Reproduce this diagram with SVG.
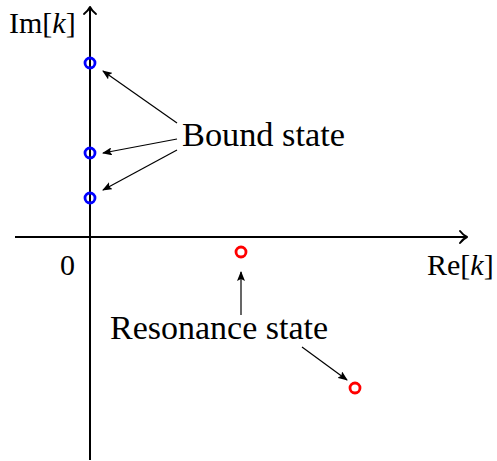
<svg xmlns="http://www.w3.org/2000/svg" width="497" height="461" viewBox="0 0 497 461">
<style>
.t{font-family:"Liberation Serif","Times New Roman",serif;font-size:30px;fill:#000}
.big{font-size:34px}
.ax{stroke:#000;stroke-width:2;fill:none}
.ah{stroke:#000;stroke-width:2;fill:none;stroke-linecap:round;stroke-linejoin:round}
.ar{stroke:#000;stroke-width:1.2;fill:none;marker-end:url(#tip)}
.b{fill:none;stroke:#0000ff;stroke-width:2.8}
.r{fill:none;stroke:#ff0000;stroke-width:2.8}
</style>
<defs>
<marker id="tip" viewBox="0 0 10 8" refX="9" refY="4" markerWidth="10" markerHeight="8" markerUnits="userSpaceOnUse" orient="auto">
<path d="M0,0 L10,4 L0,8 L2,4 Z" fill="#000"/>
</marker>
</defs>
<g id="axes">
<line class="ax" x1="15" y1="237" x2="467" y2="237"/>
<path class="ah" d="M460,231 Q463,235 467,237 Q463,239 460,243"/>
<line class="ax" x1="90" y1="460" x2="90" y2="7"/>
<path class="ah" d="M84,14 Q88,11 90,7 Q92,11 96,14"/>
</g>
<g id="labels">
<text class="t" x="9" y="33">Im[<tspan font-style="italic">k</tspan>]</text>
<text class="t" x="427" y="275">Re[<tspan font-style="italic">k</tspan>]</text>
<text class="t" x="60" y="275">0</text>
</g>
<g id="bound-states">
<circle class="b" cx="90" cy="63" r="5"/>
<circle class="b" cx="90" cy="153" r="5"/>
<circle class="b" cx="90" cy="198" r="5"/>
</g>
<g id="resonance-states">
<circle class="r" cx="241" cy="252" r="5"/>
<circle class="r" cx="355" cy="388" r="5"/>
</g>
<g id="bound-label">
<text class="t big" x="182" y="146" textLength="163" lengthAdjust="spacingAndGlyphs">Bound state</text>
</g>
<g id="resonance-label">
<text class="t big" x="110" y="339" textLength="218" lengthAdjust="spacingAndGlyphs">Resonance state</text>
</g>
<g id="connectors">
<line class="ar" x1="177" y1="123" x2="103" y2="71"/>
<line class="ar" x1="177" y1="139" x2="103" y2="153"/>
<line class="ar" x1="177" y1="150" x2="103" y2="190"/>
<line class="ar" x1="241" y1="315" x2="241" y2="272"/>
<line class="ar" x1="302" y1="347" x2="347" y2="380"/>
</g>
</svg>
